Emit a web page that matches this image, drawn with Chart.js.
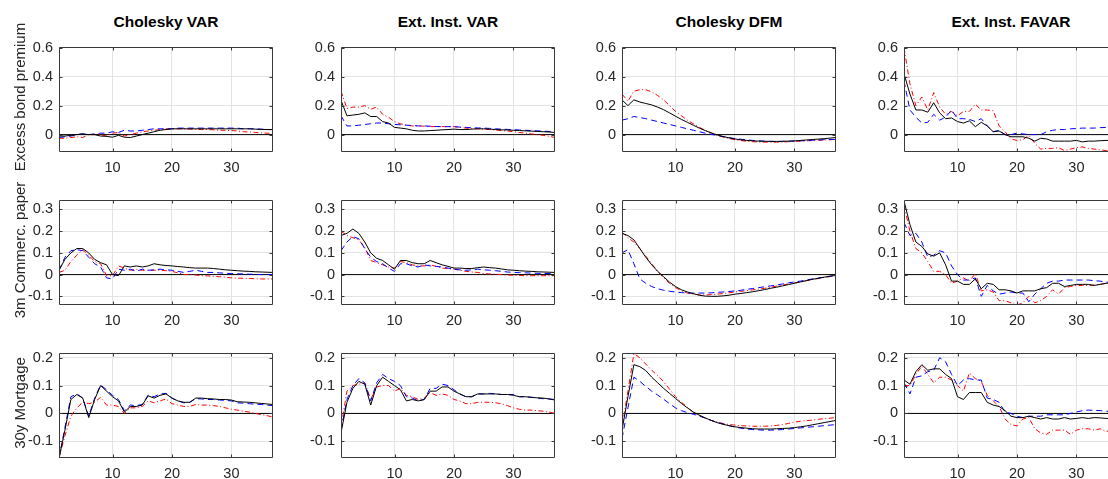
<!DOCTYPE html>
<html>
<head>
<meta charset="utf-8">
<script src="https://cdn.jsdelivr.net/npm/chart.js@4.4.1/dist/chart.umd.min.js"></script>
<style>
  html,body{margin:0;padding:0;background:#fff;}
  #wrap{position:relative;width:1108px;height:479px;overflow:hidden;background:#fff;font-family:"Liberation Sans",Arial,sans-serif;}
  .ttl{position:absolute;font-weight:bold;font-size:15.5px;color:#000;white-space:nowrap;transform:translate(-50%,-50%);}
  .ylab{position:absolute;font-size:15px;color:#262626;white-space:nowrap;transform:translate(-50%,-50%) rotate(-90deg);}
  canvas{position:absolute;}
</style>
</head>
<body>
<div id="wrap"></div>
<script>
// ---------------- DATA ----------------
const horizons = [1,2,3,4,5,6,7,8,9,10,11,12,13,14,15,16,17,18,19,20,21,22,23,24,25,26,27,28,29,30,31,32,33,34,35,36,37];
const panelTitles = ["Cholesky VAR","Ext. Inst. VAR","Cholesky DFM","Ext. Inst. FAVAR"];
const rowLabels = ["Excess bond premium","3m Commerc. paper","30y Mortgage"];
const xTickValues = [10,20,30];
const yTickValuesRow1 = [0,0.2,0.4,0.6];
const yTickValuesRow2 = [-0.1,0,0.1,0.2,0.3];
const yTickValuesRow3 = [-0.1,0,0.1,0.2];

// Row 1: Excess bond premium
const ebp_cholVAR_solid   = [-0.01,-0.01,-0.005,0.0,0.005,0.0,0.0,-0.01,-0.012,-0.018,-0.005,-0.018,-0.02,-0.01,0.0,0.01,0.02,0.03,0.035,0.04,0.04,0.04,0.04,0.04,0.04,0.04,0.04,0.04,0.04,0.04,0.04,0.04,0.04,0.038,0.036,0.035,0.035];
const ebp_cholVAR_dashed  = [-0.02,-0.015,-0.01,0.0,0.005,0.0,0.005,0.01,0.01,0.02,0.015,0.03,0.025,0.025,0.03,0.035,0.04,0.04,0.04,0.04,0.045,0.045,0.045,0.045,0.045,0.045,0.045,0.045,0.045,0.045,0.045,0.04,0.04,0.04,0.038,0.035,0.035];
const ebp_cholVAR_dashdot = [-0.025,-0.025,-0.02,-0.015,-0.02,0.0,0.0,0.0,-0.01,0.01,0.015,-0.01,0.0,0.01,0.02,0.025,0.03,0.035,0.04,0.04,0.04,0.04,0.038,0.036,0.035,0.035,0.033,0.03,0.03,0.028,0.025,0.02,0.018,0.015,0.012,0.01,0.008];

const ebp_extVAR_solid   = [0.237,0.13,0.135,0.14,0.15,0.125,0.125,0.09,0.08,0.05,0.045,0.04,0.03,0.025,0.025,0.028,0.03,0.033,0.035,0.038,0.035,0.035,0.038,0.04,0.04,0.038,0.035,0.033,0.032,0.03,0.028,0.026,0.024,0.022,0.02,0.018,0.015];
const ebp_extVAR_dashed  = [0.13,0.06,0.06,0.065,0.07,0.075,0.08,0.08,0.075,0.07,0.068,0.065,0.063,0.06,0.06,0.058,0.056,0.055,0.055,0.055,0.052,0.05,0.048,0.046,0.045,0.043,0.04,0.038,0.036,0.034,0.032,0.03,0.028,0.026,0.024,0.022,0.02];
const ebp_extVAR_dashdot = [0.30,0.18,0.19,0.19,0.20,0.175,0.19,0.14,0.12,0.09,0.075,0.065,0.06,0.06,0.058,0.056,0.055,0.055,0.055,0.055,0.05,0.045,0.042,0.04,0.038,0.035,0.032,0.028,0.025,0.02,0.015,0.01,0.005,0.0,-0.005,-0.012,-0.02];

const ebp_cholDFM_solid   = [0.24,0.20,0.24,0.225,0.215,0.205,0.19,0.172,0.15,0.127,0.105,0.085,0.065,0.045,0.028,0.012,-0.002,-0.013,-0.022,-0.03,-0.036,-0.04,-0.043,-0.045,-0.046,-0.047,-0.047,-0.046,-0.045,-0.043,-0.04,-0.037,-0.034,-0.031,-0.028,-0.024,-0.02];
const ebp_cholDFM_dashed  = [0.10,0.11,0.125,0.118,0.11,0.1,0.09,0.08,0.07,0.06,0.05,0.04,0.03,0.02,0.01,0.002,-0.006,-0.014,-0.021,-0.027,-0.032,-0.036,-0.04,-0.043,-0.045,-0.046,-0.047,-0.047,-0.046,-0.045,-0.043,-0.041,-0.039,-0.037,-0.035,-0.034,-0.033];
const ebp_cholDFM_dashdot = [0.28,0.23,0.30,0.31,0.31,0.295,0.27,0.24,0.2,0.16,0.13,0.1,0.075,0.05,0.03,0.012,-0.004,-0.017,-0.027,-0.035,-0.041,-0.046,-0.049,-0.051,-0.052,-0.052,-0.052,-0.051,-0.049,-0.047,-0.045,-0.043,-0.041,-0.039,-0.037,-0.035,-0.033];

const ebp_extFAVAR_solid   = [0.42,0.28,0.17,0.17,0.155,0.22,0.15,0.11,0.115,0.09,0.08,0.095,0.055,0.085,0.06,0.02,0.025,0.0,-0.015,-0.015,-0.015,-0.025,-0.045,-0.025,-0.03,-0.045,-0.045,-0.045,-0.045,-0.04,-0.05,-0.045,-0.045,-0.042,-0.04,-0.04,-0.04];
const ebp_extFAVAR_dashed  = [0.37,0.17,0.12,0.08,0.085,0.14,0.10,0.12,0.17,0.11,0.11,0.105,0.09,0.11,0.06,0.02,0.03,0.0,0.0,0.01,0.005,0.0,0.0,0.0,0.02,0.03,0.035,0.035,0.04,0.042,0.045,0.045,0.045,0.048,0.05,0.05,0.05];
const ebp_extFAVAR_dashdot = [0.60,0.35,0.2,0.26,0.17,0.29,0.19,0.14,0.16,0.13,0.16,0.16,0.21,0.17,0.17,0.165,0.06,0.02,-0.03,-0.04,-0.035,-0.005,-0.06,-0.1,-0.095,-0.095,-0.09,-0.11,-0.1,-0.09,-0.085,-0.095,-0.1,-0.105,-0.11,-0.115,-0.12];

// Row 2: 3m Commercial paper
const cp_cholVAR_solid   = [0.02,0.07,0.10,0.12,0.12,0.10,0.07,0.055,0.045,0.0,-0.005,0.04,0.035,0.04,0.035,0.04,0.05,0.045,0.042,0.04,0.037,0.035,0.032,0.03,0.03,0.03,0.028,0.025,0.022,0.02,0.018,0.016,0.015,0.013,0.012,0.011,0.01];
const cp_cholVAR_dashed  = [0.02,0.08,0.11,0.115,0.11,0.08,0.05,0.035,-0.015,-0.02,0.025,0.02,0.025,0.015,0.025,0.02,0.022,0.025,0.022,0.02,0.015,0.01,0.015,0.02,0.015,0.01,0.01,0.008,0.006,0.005,0.004,0.003,0.002,0.001,0.0,0.0,0.0];
const cp_cholVAR_dashdot = [0.01,0.02,0.06,0.09,0.115,0.09,0.06,0.05,-0.005,-0.005,0.04,0.03,0.02,0.025,0.02,0.02,0.02,0.02,0.018,0.015,0.008,0.0,0.0,-0.002,-0.005,-0.006,-0.008,-0.01,-0.012,-0.015,-0.016,-0.017,-0.018,-0.019,-0.02,-0.02,-0.02];

const cp_extVAR_solid   = [0.18,0.19,0.21,0.19,0.15,0.1,0.075,0.065,0.045,0.025,0.065,0.065,0.055,0.05,0.05,0.065,0.055,0.045,0.038,0.03,0.03,0.028,0.028,0.032,0.035,0.032,0.03,0.026,0.022,0.02,0.018,0.016,0.015,0.013,0.012,0.011,0.01];
const cp_extVAR_dashed  = [0.11,0.15,0.175,0.165,0.12,0.08,0.06,0.05,0.03,0.015,0.05,0.05,0.04,0.035,0.045,0.04,0.038,0.035,0.03,0.025,0.022,0.02,0.022,0.025,0.022,0.02,0.018,0.015,0.012,0.01,0.009,0.008,0.007,0.006,0.005,0.005,0.005];
const cp_extVAR_dashdot = [0.2,0.18,0.17,0.16,0.125,0.065,0.055,0.045,0.035,0.03,0.06,0.055,0.045,0.04,0.04,0.045,0.038,0.03,0.028,0.025,0.02,0.015,0.012,0.01,0.005,0.003,0.002,0.0,-0.002,-0.003,-0.004,-0.005,-0.005,-0.005,-0.005,-0.005,-0.005];

const cp_cholDFM_solid   = [0.19,0.18,0.16,0.12,0.08,0.045,0.015,-0.01,-0.035,-0.055,-0.07,-0.08,-0.088,-0.095,-0.099,-0.1,-0.1,-0.098,-0.095,-0.09,-0.087,-0.083,-0.079,-0.074,-0.069,-0.063,-0.058,-0.052,-0.046,-0.04,-0.034,-0.028,-0.022,-0.017,-0.012,-0.007,-0.002];
const cp_cholDFM_dashed  = [0.1,0.115,0.05,-0.02,-0.04,-0.055,-0.065,-0.072,-0.077,-0.08,-0.083,-0.085,-0.085,-0.085,-0.085,-0.084,-0.082,-0.08,-0.078,-0.075,-0.072,-0.068,-0.064,-0.06,-0.056,-0.052,-0.048,-0.043,-0.038,-0.034,-0.03,-0.025,-0.02,-0.016,-0.012,-0.008,-0.005];
const cp_cholDFM_dashdot = [0.195,0.17,0.15,0.12,0.085,0.05,0.015,-0.015,-0.04,-0.06,-0.075,-0.085,-0.09,-0.093,-0.094,-0.092,-0.09,-0.087,-0.084,-0.08,-0.077,-0.074,-0.07,-0.067,-0.063,-0.058,-0.053,-0.048,-0.043,-0.038,-0.033,-0.028,-0.023,-0.018,-0.013,-0.009,-0.005];

const cp_extFAVAR_solid   = [0.34,0.23,0.15,0.13,0.095,0.085,0.1,0.045,-0.03,-0.03,-0.045,-0.045,-0.02,-0.065,-0.04,-0.045,-0.07,-0.07,-0.075,-0.085,-0.075,-0.075,-0.075,-0.065,-0.06,-0.04,-0.04,-0.055,-0.05,-0.045,-0.045,-0.045,-0.05,-0.045,-0.04,-0.038,-0.035];
const cp_extFAVAR_dashed  = [0.24,0.18,0.19,0.15,0.08,0.09,0.11,0.1,0.04,0.0,-0.025,-0.025,-0.015,-0.1,-0.05,-0.075,-0.09,-0.085,-0.08,-0.085,-0.085,-0.125,-0.09,-0.065,-0.04,-0.03,-0.03,-0.025,-0.025,-0.025,-0.025,-0.025,-0.028,-0.03,-0.035,-0.035,-0.035];
const cp_extFAVAR_dashdot = [0.32,0.2,0.12,0.1,0.06,0.015,0.015,0.0,-0.04,-0.03,-0.015,-0.03,0.005,-0.075,-0.07,-0.08,-0.12,-0.12,-0.13,-0.14,-0.13,-0.1,-0.13,-0.12,-0.1,-0.07,-0.09,-0.06,-0.055,-0.05,-0.05,-0.05,-0.048,-0.045,-0.04,-0.038,-0.035];

// Row 3: 30y Mortgage
const mtg_cholVAR_solid   = [-0.16,-0.06,0.05,0.068,0.055,-0.015,0.05,0.1,0.08,0.06,0.045,0.005,0.025,0.025,0.03,0.063,0.055,0.065,0.07,0.055,0.045,0.04,0.04,0.055,0.055,0.053,0.052,0.05,0.05,0.048,0.042,0.041,0.04,0.038,0.036,0.034,0.032];
const mtg_cholVAR_dashed  = [-0.16,-0.05,0.06,0.07,0.055,-0.01,0.055,0.102,0.085,0.065,0.05,0.01,0.03,0.028,0.032,0.066,0.06,0.07,0.072,0.055,0.045,0.038,0.04,0.053,0.052,0.05,0.05,0.048,0.047,0.045,0.038,0.037,0.035,0.033,0.032,0.03,0.028];
const mtg_cholVAR_dashdot = [-0.16,-0.08,-0.01,0.02,0.04,0.035,0.04,0.058,0.03,0.03,0.025,0.0,0.02,0.02,0.025,0.045,0.038,0.045,0.052,0.035,0.03,0.025,0.025,0.032,0.03,0.03,0.028,0.025,0.02,0.015,0.012,0.008,0.005,0.0,-0.004,-0.008,-0.013];

const mtg_extVAR_solid   = [-0.07,0.04,0.09,0.115,0.105,0.03,0.1,0.13,0.115,0.1,0.085,0.045,0.05,0.045,0.05,0.08,0.08,0.095,0.095,0.08,0.07,0.06,0.06,0.07,0.07,0.07,0.07,0.068,0.068,0.065,0.06,0.06,0.058,0.056,0.055,0.052,0.048];
const mtg_extVAR_dashed  = [-0.06,0.05,0.1,0.125,0.11,0.045,0.11,0.14,0.125,0.115,0.1,0.06,0.055,0.045,0.05,0.09,0.09,0.105,0.1,0.085,0.07,0.06,0.06,0.07,0.07,0.072,0.07,0.068,0.068,0.068,0.06,0.06,0.058,0.055,0.053,0.052,0.05];
const mtg_extVAR_dashdot = [-0.05,0.08,0.1,0.105,0.11,0.05,0.095,0.1,0.1,0.08,0.09,0.065,0.06,0.05,0.055,0.075,0.065,0.07,0.065,0.05,0.045,0.035,0.035,0.04,0.04,0.04,0.038,0.035,0.028,0.02,0.015,0.012,0.012,0.01,0.008,0.005,0.0];

const mtg_cholDFM_solid   = [-0.06,0.06,0.175,0.168,0.154,0.13,0.11,0.09,0.072,0.054,0.036,0.02,0.005,-0.006,-0.016,-0.025,-0.033,-0.039,-0.044,-0.048,-0.051,-0.053,-0.055,-0.056,-0.056,-0.056,-0.055,-0.054,-0.053,-0.051,-0.048,-0.045,-0.041,-0.037,-0.033,-0.029,-0.025];
const mtg_cholDFM_dashed  = [-0.09,0.02,0.13,0.115,0.097,0.08,0.066,0.051,0.035,0.02,0.01,0.003,-0.003,-0.009,-0.017,-0.025,-0.032,-0.038,-0.044,-0.049,-0.053,-0.056,-0.058,-0.059,-0.06,-0.06,-0.059,-0.058,-0.056,-0.054,-0.052,-0.05,-0.048,-0.046,-0.044,-0.042,-0.04];
const mtg_cholDFM_dashdot = [-0.05,0.08,0.215,0.2,0.177,0.155,0.135,0.114,0.087,0.06,0.04,0.022,0.004,-0.008,-0.017,-0.025,-0.031,-0.036,-0.04,-0.042,-0.044,-0.045,-0.046,-0.046,-0.046,-0.045,-0.043,-0.04,-0.036,-0.031,-0.028,-0.026,-0.024,-0.021,-0.019,-0.017,-0.015];

const mtg_extFAVAR_solid   = [0.12,0.105,0.15,0.175,0.155,0.16,0.16,0.14,0.125,0.06,0.05,0.075,0.075,0.075,0.04,0.03,0.025,0.01,-0.01,-0.015,-0.015,-0.01,-0.015,-0.02,-0.015,-0.02,-0.02,-0.015,-0.02,-0.018,-0.015,-0.018,-0.015,-0.016,-0.018,-0.018,-0.018];
const mtg_extFAVAR_dashed  = [0.11,0.07,0.13,0.135,0.15,0.155,0.2,0.185,0.14,0.1,0.12,0.125,0.12,0.12,0.055,0.05,0.04,0.005,0.0,-0.01,-0.015,-0.01,-0.01,-0.01,-0.005,-0.005,-0.005,-0.005,0.0,0.005,0.01,0.012,0.011,0.01,0.008,0.006,0.005];
const mtg_extFAVAR_dashdot = [0.1,0.1,0.14,0.17,0.14,0.11,0.13,0.13,0.12,0.1,0.08,0.145,0.125,0.115,0.065,0.045,0.025,-0.02,-0.04,-0.045,-0.02,-0.015,-0.055,-0.07,-0.075,-0.06,-0.06,-0.06,-0.075,-0.06,-0.055,-0.055,-0.06,-0.055,-0.065,-0.06,-0.055];

// ---------------- LAYOUT ----------------
const colLeft = [59, 341, 622, 904];
const rowTop = [42, 195, 348];
const plotW = 214, plotH = 110;
const yLimits = [[-0.12, 0.607], [-0.14, 0.345], [-0.16, 0.218]];
const yTicksByRow = [yTickValuesRow1, yTickValuesRow2, yTickValuesRow3];

const panelSeries = [
  [[ebp_cholVAR_solid, ebp_cholVAR_dashed, ebp_cholVAR_dashdot],
   [ebp_extVAR_solid, ebp_extVAR_dashed, ebp_extVAR_dashdot],
   [ebp_cholDFM_solid, ebp_cholDFM_dashed, ebp_cholDFM_dashdot],
   [ebp_extFAVAR_solid, ebp_extFAVAR_dashed, ebp_extFAVAR_dashdot]],
  [[cp_cholVAR_solid, cp_cholVAR_dashed, cp_cholVAR_dashdot],
   [cp_extVAR_solid, cp_extVAR_dashed, cp_extVAR_dashdot],
   [cp_cholDFM_solid, cp_cholDFM_dashed, cp_cholDFM_dashdot],
   [cp_extFAVAR_solid, cp_extFAVAR_dashed, cp_extFAVAR_dashdot]],
  [[mtg_cholVAR_solid, mtg_cholVAR_dashed, mtg_cholVAR_dashdot],
   [mtg_extVAR_solid, mtg_extVAR_dashed, mtg_extVAR_dashdot],
   [mtg_cholDFM_solid, mtg_cholDFM_dashed, mtg_cholDFM_dashdot],
   [mtg_extFAVAR_solid, mtg_extFAVAR_dashed, mtg_extFAVAR_dashdot]]
];

const wrap = document.getElementById('wrap');
const PADL = 50, PADT = 10, PADR = 10, PADB = 26;
const FONT = '"Liberation Sans", Arial, sans-serif';

const boxPlugin = {
  id: 'matlabBox',
  afterDatasetsDraw(chart) {
    const {ctx, chartArea: a, scales: {x, y}} = chart;
    const yt = chart.options.plugins.matlabBox.yticks;
    ctx.save();
    ctx.strokeStyle = '#3a3a3a';
    ctx.lineWidth = 1;
    ctx.beginPath();
    const L = Math.round(a.left) + 0.5, R = Math.round(a.right) - 0.5;
    const T = Math.round(a.top) + 0.5, B = Math.round(a.bottom) - 0.5;
    ctx.rect(L, T, R - L, B - T);
    const tl = 3;
    for (const v of xTickValues) {
      const px = Math.round(x.getPixelForValue(v)) + 0.5;
      ctx.moveTo(px, B); ctx.lineTo(px, B - tl);
      ctx.moveTo(px, T); ctx.lineTo(px, T + tl);
    }
    for (const v of yt) {
      const py = Math.round(y.getPixelForValue(v)) + 0.5;
      ctx.moveTo(L, py); ctx.lineTo(L + tl, py);
      ctx.moveTo(R, py); ctx.lineTo(R - tl, py);
    }
    ctx.stroke();
    ctx.restore();
  }
};

function toPts(arr) { return horizons.map((h, i) => ({x: h, y: arr[i]})); }

for (let r = 0; r < 3; r++) {
  for (let c = 0; c < 4; c++) {
    const cv = document.createElement('canvas');
    const W = plotW + PADL + PADR, H = plotH + PADT + PADB;
    cv.width = W; cv.height = H;
    cv.style.width = W + 'px'; cv.style.height = H + 'px';
    cv.style.left = (colLeft[c] - PADL) + 'px';
    cv.style.top = (rowTop[r] - PADT) + 'px';
    wrap.appendChild(cv);

    const [sSolid, sDashed, sDashdot] = panelSeries[r][c];
    const yt = yTicksByRow[r];
    new Chart(cv.getContext('2d'), {
      type: 'line',
      data: {
        datasets: [
          {data: toPts(sSolid), borderColor: '#000000', borderWidth: 1, pointRadius: 0, tension: 0, fill: false},
          {data: toPts(sDashed), borderColor: '#0000ff', borderWidth: 1, borderDash: [6, 4], pointRadius: 0, tension: 0, fill: false},
          {data: toPts(sDashdot), borderColor: '#ff0000', borderWidth: 1, borderDash: [5, 2.5, 1, 2.5], pointRadius: 0, tension: 0, fill: false},
          {data: [{x: horizons[0], y: 0}, {x: horizons[horizons.length - 1], y: 0}], borderColor: '#000000', borderWidth: 1, pointRadius: 0, fill: false}
        ]
      },
      options: {
        responsive: false,
        animation: false,
        devicePixelRatio: 1,
        layout: {padding: {left: 0, top: PADT, right: PADR, bottom: 0}},
        plugins: {legend: {display: false}, tooltip: {enabled: false}, matlabBox: {yticks: yt}},
        scales: {
          x: {
            type: 'linear', min: 1, max: 37,
            afterBuildTicks: s => { s.ticks = xTickValues.map(v => ({value: v})); },
            afterFit: s => { s.height = PADB; },
            grid: {color: '#e3e3e3', drawTicks: false, lineWidth: 1},
            border: {display: false},
            ticks: {color: '#262626', font: {family: FONT, size: 14.5}, padding: 7, maxRotation: 0, autoSkip: false}
          },
          y: {
            type: 'linear', min: yLimits[r][0], max: yLimits[r][1],
            afterBuildTicks: s => { s.ticks = yt.map(v => ({value: v})); },
            afterFit: s => { s.width = PADL; },
            grid: {color: '#e3e3e3', drawTicks: false, lineWidth: 1},
            border: {display: false},
            ticks: {color: '#262626', font: {family: FONT, size: 14.5}, padding: 6, autoSkip: false,
                    callback: v => String(+Number(v).toFixed(2))}
          }
        }
      },
      plugins: [boxPlugin]
    });
  }
}

// Text placed above the canvases
for (let c = 0; c < 4; c++) {
  const t = document.createElement('div');
  t.className = 'ttl';
  t.textContent = panelTitles[c];
  t.style.left = (colLeft[c] + plotW / 2) + 'px';
  t.style.top = '22px';
  wrap.appendChild(t);
}
for (let r = 0; r < 3; r++) {
  const yl = document.createElement('div');
  yl.className = 'ylab';
  yl.textContent = rowLabels[r];
  yl.style.left = '19px';
  yl.style.top = (rowTop[r] + plotH / 2) + 'px';
  wrap.appendChild(yl);
}
</script>
</body>
</html>
